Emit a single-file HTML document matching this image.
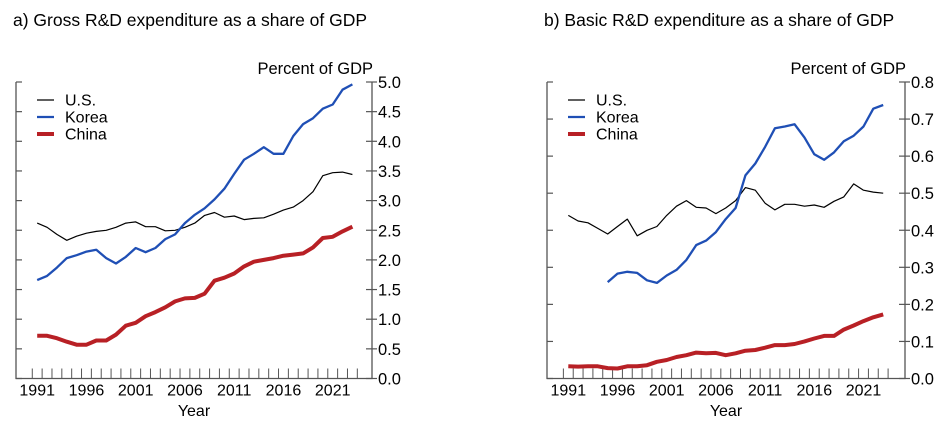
<!DOCTYPE html>
<html><head><meta charset="utf-8"><style>
body{margin:0;background:#fff;}
svg{display:block;font-family:"Liberation Sans",sans-serif;}
</style></head><body>
<svg id="s" width="942" height="427" viewBox="0 0 942 427" xmlns="http://www.w3.org/2000/svg">
<text x="13" y="26" font-size="17.5">a) Gross R&amp;D expenditure as a share of GDP</text>
<text x="544" y="26" font-size="17.5">b) Basic R&amp;D expenditure as a share of GDP</text>
</svg>
<script>
const s=document.getElementById('s');const NS='http://www.w3.org/2000/svg';
function el(t,a,txt){const e=document.createElementNS(NS,t);for(const k in a)e.setAttribute(k,a[k]);if(txt!==undefined)e.textContent=txt;s.appendChild(e);return e;}
function panel(L,R,x91,step,max,tickStep,dec,series){
 const T=82,B=378.5;
 const ys=v=>B-(v/max)*(B-T);
 el('path',{d:`M${L},${T}V${B}H${R}V${T}`,fill:'none',stroke:'#555','stroke-width':1.3});
 el('text',{x:R+1,y:T-8,'font-size':16.5,'text-anchor':'end'},'Percent of GDP');
 for(let v=0;v<=max+1e-9;v+=tickStep){const y=ys(v);
  el('line',{x1:R-6,x2:R+5,y1:y,y2:y,stroke:'#555','stroke-width':1.2});
  el('line',{x1:L,x2:L+6,y1:y,y2:y,stroke:'#555','stroke-width':1.2});
  el('text',{x:R+6,y:y+6,'font-size':16.5},v.toFixed(dec));}
 for(let i=0;i<34;i++){const x=x91+(i-0.5)*step;el('line',{x1:x,x2:x,y1:B,y2:B-10,stroke:'#555','stroke-width':1});}
 for(let yr=1991;yr<=2021;yr+=5){el('text',{x:x91+(yr-1991)*step,y:B+17,'font-size':16,'text-anchor':'middle'},String(yr));}
 el('text',{x:(L+R)/2,y:416,'font-size':16,'text-anchor':'middle'},'Year');
 const leg=[['U.S.','#000',1.2],['Korea','#1f4fb5',2.3],['China','#b82025',4]];
 leg.forEach((l,i)=>{const y=100+i*17;el('line',{x1:L+21,x2:L+38,y1:y,y2:y,stroke:l[1],'stroke-width':l[2]});
  el('text',{x:L+49,y:y+5.5,'font-size':16},l[0]);});
 series.forEach((d,k)=>{const st=d.start;let p='';d.v.forEach((v,i)=>{p+=(i?'L':'M')+(x91+(st-1991+i)*step).toFixed(1)+','+ys(v).toFixed(1);});
  el('path',{d:p,fill:'none',stroke:leg[k][1],'stroke-width':leg[k][2],'stroke-linejoin':'round'});});
}
panel(16,372,37.2,9.85,5,0.5,1,[
 {start:1991,v:[2.62,2.55,2.43,2.33,2.40,2.45,2.48,2.50,2.55,2.62,2.64,2.56,2.56,2.49,2.50,2.55,2.62,2.75,2.80,2.72,2.74,2.68,2.70,2.71,2.77,2.84,2.89,3.00,3.15,3.42,3.47,3.48,3.44]},
 {start:1991,v:[1.66,1.73,1.87,2.03,2.08,2.14,2.17,2.03,1.94,2.05,2.20,2.13,2.20,2.35,2.43,2.62,2.76,2.87,3.02,3.20,3.45,3.69,3.79,3.90,3.79,3.79,4.09,4.29,4.39,4.55,4.62,4.87,4.96]},
 {start:1991,v:[0.72,0.72,0.68,0.62,0.57,0.57,0.64,0.64,0.74,0.89,0.94,1.05,1.12,1.20,1.30,1.35,1.36,1.43,1.65,1.70,1.77,1.89,1.97,2.00,2.03,2.07,2.09,2.11,2.21,2.37,2.39,2.48,2.56]}]);
panel(547,905,568.3,9.84,0.8,0.1,1,[
 {start:1991,v:[.44,.425,.42,.405,.39,.41,.43,.385,.40,.41,.44,.465,.48,.462,.46,.445,.46,.48,.515,.508,.473,.455,.47,.47,.465,.468,.462,.478,.49,.525,.508,.503,.50]},
 {start:1995,v:[.26,.283,.288,.285,.265,.258,.278,.293,.32,.36,.372,.395,.43,.46,.548,.58,.625,.675,.68,.686,.65,.605,.59,.61,.64,.655,.68,.728,.738]},
 {start:1991,v:[.033,.032,.033,.033,.028,.027,.033,.033,.036,.045,.05,.058,.063,.07,.068,.069,.063,.068,.075,.077,.083,.09,.09,.093,.1,.108,.115,.115,.132,.143,.155,.165,.173]}]);
</script>
</body></html>
